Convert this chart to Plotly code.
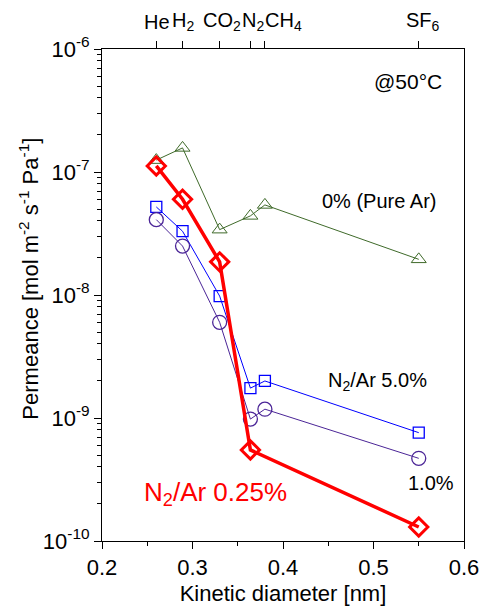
import plotly.graph_objects as go

gases = ["He", "H<sub>2</sub>", "CO<sub>2</sub>", "N<sub>2</sub>", "CH<sub>4</sub>", "SF<sub>6</sub>"]
kinetic_d = [0.26, 0.289, 0.33, 0.364, 0.38, 0.55]
# where each gas name is written above the top axis (kinetic diameter units)
gas_label_pos = [0.2605, 0.2897, 0.3324, 0.3665, 0.400, 0.5546]

pure_ar = [1.25e-7, 1.57e-7, 3.4e-8, 4.4e-8, 5.4e-8, 1.95e-8]
n2ar_5 = [5.2e-8, 3.3e-8, 9.8e-9, 1.75e-9, 2.0e-9, 7.6e-10]
n2ar_1 = [4.1e-8, 2.5e-8, 6.0e-9, 9.8e-10, 1.18e-9, 4.7e-10]
n2ar_025 = [1.12e-7, 6.0e-8, 1.86e-8, 5.5e-10, None, 1.3e-10]

xtickvals = [0.2, 0.3, 0.4, 0.5, 0.6]
xticktext = ["0.2", "0.3", "0.4", "0.5", "0.6"]
ytickvals = [1e-10, 1e-9, 1e-8, 1e-7, 1e-6]
yticktext = ["10<sup>-10</sup>", "10<sup>-9</sup>", "10<sup>-8</sup>", "10<sup>-7</sup>", "10<sup>-6</sup>"]

font = "Liberation Sans, Arial, sans-serif"

fig = go.Figure()

fig.add_trace(go.Scatter(x=kinetic_d, y=pure_ar, mode="lines+markers",
                         line=dict(color="#3f6a2a", width=1),
                         marker=dict(symbol="triangle-up-open", size=13, color="#3f6a2a", line=dict(width=1))))
fig.add_trace(go.Scatter(x=kinetic_d, y=n2ar_5, mode="lines+markers",
                         line=dict(color="#0000ff", width=1),
                         marker=dict(symbol="square-open", size=11, color="#0000ff", line=dict(width=1.3))))
fig.add_trace(go.Scatter(x=kinetic_d, y=n2ar_1, mode="lines+markers",
                         line=dict(color="#4b2597", width=1),
                         marker=dict(symbol="circle-open", size=14, color="#4b2597", line=dict(width=1.3))))
fig.add_trace(go.Scatter(x=kinetic_d, y=n2ar_025, mode="lines+markers", connectgaps=True,
                         line=dict(color="#ff0000", width=3.5),
                         marker=dict(symbol="diamond-open", size=14, color="#ff0000", line=dict(width=3))))
# invisible trace carrying the top (gas) axis
fig.add_trace(go.Scatter(x=kinetic_d, y=pure_ar, xaxis="x2", mode="markers",
                         marker=dict(opacity=0), hoverinfo="skip"))

fig.update_layout(
    width=491, height=614,
    margin=dict(l=102, r=19, t=49, b=73),
    paper_bgcolor="white", plot_bgcolor="white",
    showlegend=False,
    font=dict(family=font, size=20, color="black"),
    xaxis=dict(range=[0.2, 0.6], tickvals=xtickvals, ticktext=xticktext,
               ticks="outside", ticklen=7, tickwidth=1, tickcolor="black",
               minor=dict(tickvals=[0.25, 0.35, 0.45, 0.55], ticks="outside", ticklen=4, tickcolor="black"),
               showline=True, linecolor="black", linewidth=1,
               showgrid=False, zeroline=False, tickfont=dict(size=22),
               title=dict(text="Kinetic diameter [nm]", font=dict(size=22), standoff=6)),
    xaxis2=dict(range=[0.2, 0.6], overlaying="x", side="top",
                tickvals=kinetic_d, showticklabels=False,
                ticks="outside", ticklen=7, tickcolor="black",
                showline=True, linecolor="black", linewidth=1,
                showgrid=False, zeroline=False),
    yaxis=dict(type="log", range=[-10, -6], tickvals=ytickvals, ticktext=yticktext,
               ticks="outside", ticklen=7, tickcolor="black",
               minor=dict(ticks="outside", ticklen=4, tickcolor="black", dtick="D1"),
               showline=True, linecolor="black", linewidth=1, mirror=True,
               showgrid=False, zeroline=False, tickfont=dict(size=22)),
)

# gas names above the top axis
for pos, name in zip(gas_label_pos, gases):
    fig.add_annotation(x=pos, xref="x", y=1.055, yref="paper", text=name,
                       xanchor="center", yanchor="middle", showarrow=False,
                       font=dict(size=20, color="black"))

# y-axis title
fig.add_annotation(x=-0.2027, xref="paper", y=0.5325, yref="paper",
                   text="Permeance [mol m<sup>-2</sup> s<sup>-1</sup> Pa<sup>-1</sup>]",
                   textangle=-90, showarrow=False, xanchor="center", yanchor="middle",
                   font=dict(size=22, color="black"))

ann = [
    dict(x=0.578, y=-6.268, text="@50°C", size=21),
    dict(x=0.5715, y=-7.236, text="0% (Pure Ar)", size=20),
    dict(x=0.5615, y=-8.707, text="N<sub>2</sub>/Ar 5.0%", size=20),
    dict(x=0.591, y=-9.528, text="1.0%", size=20),
]
for a in ann:
    fig.add_annotation(x=a["x"], y=a["y"], text=a["text"], xanchor="right", yanchor="middle",
                       showarrow=False, font=dict(size=a["size"], color="black"))
fig.add_annotation(x=0.2445, y=-9.61, text="N<sub>2</sub>/Ar 0.25%", xanchor="left", yanchor="middle",
                   showarrow=False, font=dict(size=26, color="#ff0000"))

fig.write_html("out.html")
